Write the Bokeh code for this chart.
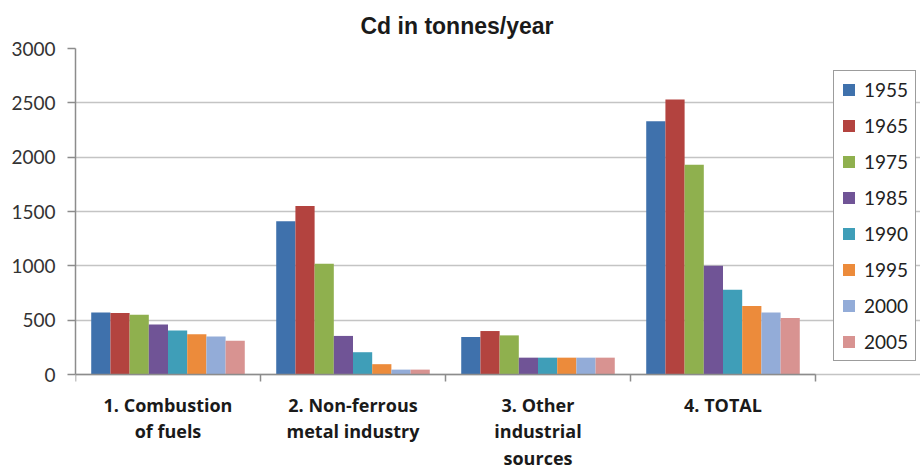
from bokeh.plotting import figure
from bokeh.models import (FixedTicker, Legend, LegendItem, ColumnDataSource,
                          Range1d, LabelSet, Title)
from bokeh.core.properties import value
from bokeh.embed import file_html
from bokeh.resources import INLINE

categories = ["1. Combustion\nof fuels", "2. Non-ferrous\nmetal industry",
              "3. Other\nindustrial\nsources", "4. TOTAL"]
years = ["1955", "1965", "1975", "1985", "1990", "1995", "2000", "2005"]
v1955 = [570, 1410, 345, 2330]
v1965 = [565, 1550, 400, 2530]
v1975 = [550, 1020, 360, 1930]
v1985 = [460, 355, 155, 1000]
v1990 = [405, 205, 155, 780]
v1995 = [370, 95, 155, 630]
v2000 = [350, 45, 155, 570]
v2005 = [310, 45, 155, 520]
series = [v1955, v1965, v1975, v1985, v1990, v1995, v2000, v2005]
y_ticks = [0, 500, 1000, 1500, 2000, 2500, 3000]
y_max = 3000

colors = ["#3F71AC", "#B3433F", "#8FB04E", "#705496", "#3F9EB8",
          "#EC8B3B", "#93ACD8", "#D89391"]

# layout (pixels in the 920x470 canvas)
W, H = 920, 470
frame_left, frame_top = 75, 48
axis_right, zero_y = 815, 374
n = len(categories)
px_per_cat = (axis_right - frame_left) / n
x_end = n + (W - axis_right) / px_per_cat
y_start = -y_max * (H - zero_y) / (zero_y - frame_top)

p = figure(width=W, height=H, x_range=Range1d(0, x_end),
           y_range=Range1d(y_start, y_max), output_backend="svg",
           toolbar_location=None, min_border_left=frame_left,
           min_border_right=0, min_border_top=frame_top,
           min_border_bottom=0)
p.outline_line_color = None
p.background_fill_color = "white"
p.border_fill_color = "white"

title = Title(text="Cd in tonnes/year", align="left", offset=285,
              text_font="Liberation Sans", text_font_style="bold",
              text_font_size="23px", text_color="#1a1a1a", standoff=20)
p.add_layout(title, "above")

group_w = 0.83
bw = group_w / len(years)
items = []
for k, (yr, vals) in enumerate(zip(years, series)):
    xs = [i + 0.5 + (k - (len(years) - 1) / 2) * bw for i in range(n)]
    src = ColumnDataSource(dict(x=xs, top=vals))
    r = p.vbar(x="x", top="top", width=bw, source=src,
               fill_color=colors[k], line_color=None)
    items.append(LegendItem(label=yr, renderers=[r]))

legend = Legend(items=items, location=(758, 109), orientation="vertical",
                label_text_font="Lato", label_text_font_size="19px",
                label_text_color="#222222", glyph_width=15, glyph_height=15,
                label_height=20, label_standoff=8, spacing=13, padding=7,
                margin=0, border_line_color="#3a3a3a", border_line_width=1.5,
                background_fill_color="white", background_fill_alpha=1.0)
p.add_layout(legend)

# x axis drawn at y = 0, boundary tick marks only
p.xaxis.fixed_location = 0
p.xaxis.bounds = (0, n)
p.xaxis.ticker = FixedTicker(ticks=[], minor_ticks=list(range(n + 1)))
p.xaxis.major_label_text_font_size = "0px"
p.xaxis.axis_line_color = "#8C8C8C"
p.xaxis.axis_line_width = 1.5
p.xaxis.minor_tick_line_color = "#8C8C8C"
p.xaxis.minor_tick_line_width = 1.5
p.xaxis.minor_tick_out = 7
p.xaxis.minor_tick_in = 0
p.xaxis.major_tick_out = 0
p.xaxis.major_tick_in = 0
p.xgrid.visible = False

# category labels, one centred text per line
lx, ly, ldy, ltext = [], [], [], []
for i, cat in enumerate(categories):
    for j, line in enumerate(cat.split("\n")):
        lx.append(i + 0.5)
        ly.append(0)
        ldy.append(-(30 + 26.5 * j))
        ltext.append(line)
lab_src = ColumnDataSource(dict(x=lx, y=ly, dy=ldy, text=ltext))
labels = LabelSet(x="x", y="y", text="text", y_offset="dy", source=lab_src,
                  text_align="center", text_baseline="middle",
                  text_font=value("Open Sans"), text_font_style="bold",
                  text_font_size="18px", text_color="#1a1a1a")
p.add_layout(labels)

p.yaxis.ticker = FixedTicker(ticks=y_ticks, minor_ticks=[])
p.yaxis.bounds = (0, y_max)
p.yaxis.axis_line_color = "#8C8C8C"
p.yaxis.axis_line_width = 1.5
p.yaxis.major_tick_line_color = "#8C8C8C"
p.yaxis.major_tick_line_width = 1.5
p.yaxis.major_tick_out = 8
p.yaxis.major_tick_in = 0
p.yaxis.major_label_standoff = 12
p.yaxis.major_label_text_font = "Lato"
p.yaxis.major_label_text_font_size = "19px"
p.yaxis.major_label_text_color = "#333333"
p.ygrid.grid_line_color = "#C4C4C4"
p.ygrid.grid_line_width = 1.5
p.ygrid.bounds = (0, n)

open("out.html", "w").write(file_html(p, INLINE))
